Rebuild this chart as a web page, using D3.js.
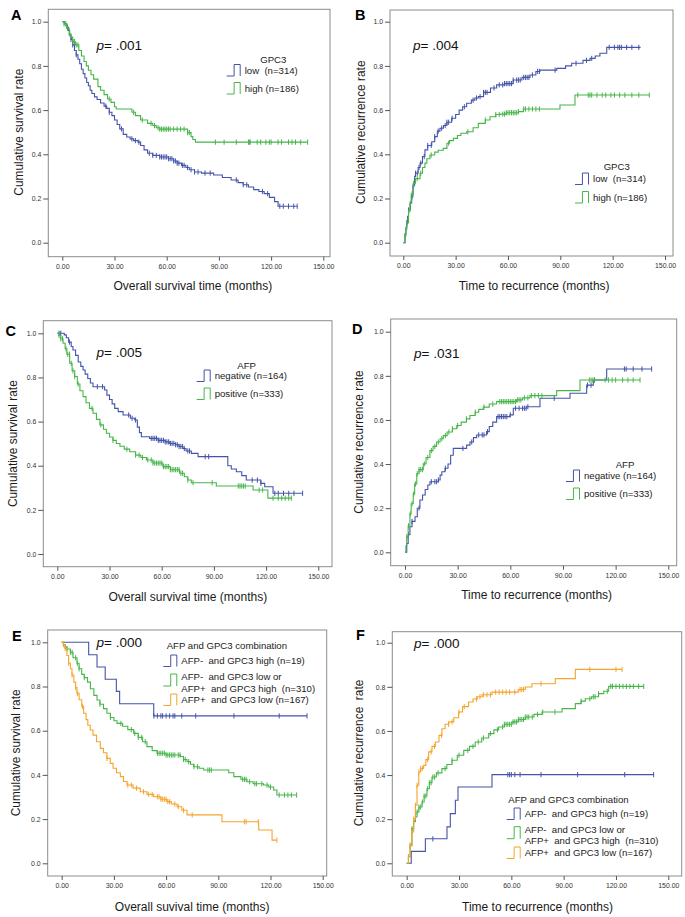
<!DOCTYPE html>
<html><head><meta charset="utf-8">
<script src="https://cdn.jsdelivr.net/npm/d3@7"></script>
<style>
html,body{margin:0;padding:0;background:#fff;}
svg{display:block;font-family:"Liberation Sans",Arial,sans-serif;}
text{white-space:pre;}
</style></head>
<body>
<svg id="chart" width="685" height="917"></svg>
<script>
// ---------- tick labels ----------
const xTicks = [0, 30, 60, 90, 120, 150];
const yTicks = [0, 0.2, 0.4, 0.6, 0.8, 1.0];

// ---------- Panel A : overall survival by GPC3 ----------
const A_low = [[0,1],[1.5,0.99],[2.5,0.975],[3.5,0.96],[4.2,0.94],[5,0.92],[6,0.895],[7,0.87],[8,0.85],[9,0.83],[10,0.81],[11,0.785],[12,0.765],[13,0.745],[14,0.725],[15,0.71],[16,0.69],[17,0.675],[18.5,0.66],[20,0.648],[22,0.632],[24,0.618],[25.5,0.608],[27,0.59],[28.5,0.575],[30,0.555],[31.5,0.535],[33,0.515],[35,0.49],[37,0.478],[39,0.47],[41,0.462],[43.5,0.455],[45,0.44],[47,0.42],[49,0.405],[52,0.395],[56,0.388],[61,0.38],[64,0.37],[66,0.36],[68.5,0.35],[71,0.34],[73,0.33],[76,0.32],[80,0.315],[87,0.306],[92,0.295],[97,0.284],[101,0.272],[104,0.262],[107,0.252],[110,0.24],[113,0.232],[116,0.222],[119,0.205],[122,0.186],[124,0.165]];
const A_lowEnd = 135;
const A_lowCens = [3,5,6,8,25,27,34,40,42,44,50,52,54,56,57,58,59,60,61,62,63,64,65,66,67,69,70,72,74,76,78,82,85,100,104,106,115,118,125,127,130,133,135];
const A_high = [[0,1],[1,0.99],[2.5,0.97],[4,0.945],[5,0.93],[6,0.91],[7.5,0.895],[9.5,0.87],[11,0.845],[12.5,0.82],[13.8,0.8],[15,0.78],[16.5,0.76],[18,0.74],[20.5,0.706],[22,0.69],[24,0.67],[26,0.65],[28,0.635],[30,0.615],[31,0.605],[40,0.59],[42,0.575],[45,0.555],[49,0.54],[52,0.53],[54,0.52],[56,0.514],[72,0.498],[74,0.48],[75,0.467],[76.5,0.455]];
const A_highEnd = 141;
const A_highCens = [1,2,3,4,6,7,8,9,27,41,46,51,53,55,56,57,58,59,60,61,62,64,66,68,70,72,73,88,93,100,107,107.5,108,112,114,117,119,120,124,126,130,132,134,137,141];

// ---------- Panel B : recurrence by GPC3 ----------
const B_low = [[0,0],[1,0.04],[1.5,0.07],[2,0.088],[2.5,0.12],[3,0.148],[4,0.18],[4.8,0.208],[5.5,0.26],[6.5,0.3],[7,0.314],[8.5,0.34],[9.6,0.36],[11,0.39],[12.4,0.42],[14,0.44],[16.3,0.457],[18,0.48],[19.5,0.505],[21,0.518],[23,0.53],[25,0.545],[27.7,0.563],[30,0.58],[32,0.6],[34,0.615],[36.3,0.631],[39,0.645],[41,0.655],[43,0.661],[46,0.68],[50,0.7],[53.5,0.714],[58,0.72],[63,0.736],[68,0.748],[72.6,0.759],[76,0.775],[78.3,0.781],[88,0.789],[93,0.8],[96.5,0.812],[103,0.825],[107,0.834],[110,0.845],[112.7,0.857],[116.6,0.884]];
const B_lowEnd = 136;
const B_lowCens = [2,3,5,6,7,8,9,10,12,14,16,18,20,22,24,25,26,28,35,40,42,44,46,47,48,52,55,57,58,59,60,61,62,63,65,66,67,69,70,71,72,74,77,78,87,99,105,108,118,121,123,124,125,128,131,135];
const B_high = [[0,0],[1,0.03],[1.5,0.06],[2,0.09],[3,0.14],[3.8,0.178],[4.5,0.22],[5.7,0.269],[7,0.29],[9.6,0.314],[11,0.34],[12.4,0.36],[13.5,0.38],[15.3,0.397],[18,0.41],[20,0.418],[22.9,0.427],[25,0.45],[26.5,0.462],[28.7,0.472],[31,0.485],[33,0.495],[36.3,0.502],[40,0.52],[43,0.54],[47,0.555],[49.7,0.57],[53,0.58],[55.4,0.582],[59,0.588],[66,0.593],[68.8,0.605],[89.8,0.623],[98.4,0.668]];
const B_highEnd = 141;
const B_highCens = [1,2,3,4,5,6,8,10,16,26,37,47,53,55,57,58,59,60,61,62,63,64,65,66,69,70,72,74,76,78,100,106,107,108,111,114,116,119,121,124,127,131,135,141];

// ---------- Panel C : overall survival by AFP ----------
const C_neg = [[0,1],[4,0.993],[5.2,0.98],[6.5,0.96],[8,0.94],[9,0.924],[10.5,0.9],[12,0.87],[13.5,0.85],[14.8,0.834],[16,0.815],[17.5,0.795],[19,0.775],[20.5,0.758],[27.2,0.743],[28.5,0.72],[30,0.7],[31.5,0.68],[33,0.66],[35,0.645],[37.8,0.63],[42,0.615],[44.5,0.607],[46,0.575],[47.2,0.55],[48.3,0.531],[53,0.524],[58,0.515],[62,0.508],[64.6,0.501],[68,0.495],[70,0.487],[72.2,0.478],[74,0.467],[77,0.456],[80.9,0.441],[98,0.4],[100,0.385],[102.9,0.373],[106,0.355],[108.6,0.335],[117,0.32],[119.2,0.305],[124,0.275]];
const C_negEnd = 141;
const C_negCens = [1,2,7,23,26,41,43,45,54,55,56,57,58,59,60,61,62,63,64,65,66,67,68,69,70,71,72,73,75,76,85,87,112,115,117,125,127,130,133,136,141];
const C_pos = [[0,1],[1,0.99],[2,0.975],[3.3,0.955],[4.5,0.93],[5.5,0.905],[7.1,0.864],[8.5,0.83],[10,0.804],[11.5,0.77],[13,0.74],[14.8,0.713],[16.5,0.685],[18.5,0.66],[20.5,0.638],[22.5,0.61],[24.5,0.585],[26.5,0.565],[28.2,0.547],[30,0.53],[32,0.515],[33.9,0.501],[36,0.488],[38.5,0.475],[41.6,0.463],[45,0.448],[48,0.437],[51.2,0.426],[55,0.412],[60.7,0.396],[65,0.382],[70.3,0.366],[73,0.35],[75,0.335],[77,0.323],[91.4,0.308],[112.5,0.29],[121,0.253]];
const C_posEnd = 134.5;
const C_posCens = [1,2,3,5,6,7,8,9,10,12,20,25,32,40,45,47,49,52,54,55,56,57,58,59,60,61,62,63,64,65,66,67,68,69,70,71,72,75,78,89,104,105,106,107,108,116,118,124,127,129,131,133,134.5];

// ---------- Panel D : recurrence by AFP ----------
const D_neg = [[0,0],[1,0.04],[1.8,0.08],[2.8,0.116],[4,0.14],[5.7,0.161],[7,0.2],[8.5,0.237],[10,0.26],[11.5,0.285],[13,0.305],[14.2,0.32],[19,0.328],[20,0.35],[21,0.365],[22.8,0.381],[24.5,0.4],[26,0.44],[27.5,0.471],[35.1,0.486],[37,0.5],[39,0.52],[40.8,0.532],[46.5,0.547],[48,0.57],[50,0.59],[52.2,0.615],[59.8,0.623],[61.7,0.653],[69.3,0.66],[76.9,0.698],[94,0.721],[103.5,0.758],[107.3,0.781],[114.9,0.831]];
const D_negEnd = 140.5;
const D_negCens = [2,4,8,15,17,18,19,23,33,38,42,44,45,47,53,54,55,56,57,58,60,63,65,67,68,69,70,85,104,106,108,125,126,130,135,140.5];
const D_pos = [[0,0],[0.5,0.03],[1,0.07],[1.8,0.12],[2.8,0.174],[3.5,0.22],[4.7,0.265],[5.5,0.31],[6.7,0.356],[8,0.375],[10.4,0.401],[12,0.43],[14.2,0.461],[16,0.48],[18,0.5],[20,0.515],[21.8,0.529],[24,0.545],[27,0.56],[29.5,0.575],[32,0.59],[35,0.605],[37,0.62],[40,0.635],[42,0.648],[44.6,0.658],[48,0.672],[52.2,0.683],[63.6,0.691],[67,0.7],[71.2,0.71],[86.4,0.733],[99.7,0.781]];
const D_posEnd = 133.9;
const D_posCens = [1,2,3,4,5,6,7,8,9,10,11,13,15,17,19,21,23,25,27,30,35,40,45,50,54,55,56,57,58,59,60,61,62,63,64,65,66,68,70,72,74,76,78,105,106,107,108,114,116,118,120,124,127,130,133.9];

// ---------- Panel E : overall survival by AFP/GPC3 combination ----------
const E_g1 = [[0,1],[15.5,0.944],[20.3,0.888],[25,0.833],[31.4,0.778],[33.3,0.722],[52.9,0.667]];
const E_g1End = 141;
const E_g1Cens = [53,55,57,58,60,62,64,65,69,77,99,125,141];
const E_g2 = [[0,1],[1,0.99],[2,0.98],[3,0.97],[5,0.955],[6.5,0.93],[8.8,0.905],[10,0.88],[11.5,0.855],[13,0.84],[14.8,0.82],[16.5,0.79],[18.5,0.76],[20.3,0.739],[22,0.72],[24,0.7],[26,0.679],[28,0.66],[30,0.645],[31.8,0.633],[35,0.62],[38,0.605],[41.4,0.588],[44,0.57],[46.5,0.55],[49,0.528],[52,0.51],[54.8,0.498],[60,0.49],[68.2,0.483],[70,0.47],[72,0.46],[74,0.448],[75.9,0.437],[79,0.43],[81.6,0.422],[96,0.41],[98.9,0.392],[103,0.38],[106.5,0.369],[110,0.36],[116,0.354],[119,0.345],[121.8,0.332],[123.7,0.309]];
const E_g2End = 135;
const E_g2Cens = [1,2,3,5,6,8,9,10,13,22,28,34,40,42,44,46,48,55,56,57,58,59,60,61,62,63,64,65,67,68,70,71,73,76,78,84,85,86,104,105,106,108,111,112,115,118,120,125,128,130,132,135];
const E_g3 = [[0,1],[1,0.99],[2,0.973],[3,0.94],[4,0.905],[5,0.88],[5.9,0.852],[7,0.82],[8,0.795],[8.8,0.769],[10,0.74],[11.5,0.71],[12.6,0.679],[14,0.65],[15,0.625],[16.4,0.603],[18,0.58],[20,0.55],[22.2,0.52],[24,0.5],[26,0.475],[27.9,0.452],[29.5,0.43],[31.5,0.41],[33.7,0.392],[35.5,0.37],[37.5,0.354],[41,0.34],[45.2,0.324],[49,0.312],[52.9,0.301],[57,0.29],[60.5,0.279],[63,0.268],[66.3,0.256],[69,0.24],[72,0.219],[92.1,0.188],[113.2,0.151],[120.9,0.105]];
const E_g3End = 123.7;
const E_g3Cens = [1,2,4,6,8,9,12,26,38,40,43,47,50,52,55,56,57,58,59,60,61,62,65,67,70,75,105,106,113,123.7];

// ---------- Panel F : recurrence by AFP/GPC3 combination ----------
const F_g1 = [[0,0],[2.6,0.054],[10.7,0.111],[23.1,0.165],[25,0.225],[27.9,0.286],[29.4,0.346],[48.9,0.402]];
const F_g1End = 141.6;
const F_g1Cens = [15,58,59,60,62,65,77,98,125,141.6];
const F_g2 = [[0,0],[1,0.03],[2,0.08],[3,0.157],[4,0.19],[5,0.21],[5.9,0.233],[7,0.255],[8.8,0.278],[10,0.305],[11.6,0.338],[13,0.365],[14.5,0.391],[17,0.41],[20.2,0.429],[23,0.448],[26,0.467],[29,0.49],[32.7,0.512],[36,0.53],[39.3,0.55],[43,0.568],[47,0.588],[50,0.605],[52.7,0.618],[56,0.63],[60.4,0.641],[64,0.652],[68,0.663],[73,0.675],[77.6,0.686],[89.1,0.701],[96.7,0.724],[100,0.735],[102.4,0.746],[106,0.755],[110,0.769],[113,0.78],[115.8,0.802]];
const F_g2End = 135.9;
const F_g2Cens = [1,2,3,4,5,6,7,8,9,10,11,12,13,14,15,16,18,22,26,30,35,38,41,44,48,52,55,56,57,58,59,60,61,62,63,64,65,66,67,68,69,70,72,75,78,85,100,105,107,108,110,115,117,118,120,122,124,126,128,130,133,135.9];
const F_g3 = [[0,0],[1,0.03],[2,0.082],[3,0.142],[4,0.2],[5,0.263],[5.9,0.354],[6.9,0.414],[8,0.43],[9.7,0.444],[11,0.47],[12.6,0.505],[14.5,0.53],[16.4,0.55],[18.5,0.58],[20.2,0.61],[22,0.63],[24.1,0.641],[27,0.66],[29.8,0.686],[32,0.71],[35.5,0.731],[38,0.745],[40.5,0.755],[43.2,0.764],[48.9,0.776],[64,0.788],[68,0.799],[71.8,0.814],[85.2,0.837],[96.7,0.879]];
const F_g3End = 123.5;
const F_g3Cens = [1,2,3,4,5,6,7,8,9,12,14,16,20,24,26,30,33,40,42,44,46,48,51,53,55,57,59,62,65,66,67,77,105,120,123.5];

// ---------- labels ----------
const pValues = ["A .001","B .004","C .005","D .031","E .000","F .000"];
const legGPC3 = ["low  (n=314)", "high (n=186)"];
const legAFP = ["negative (n=164)", "positive (n=333)"];
const legCombo = [["AFP-  and GPC3 high (n=19)"], ["AFP-  and GPC3 low or", "AFP+  and GPC3 high  (n=310)"], ["AFP+  and GPC3 low (n=167)"]];

// ---------- styling ----------
const BLUE = "#4454a8", GREEN = "#47b54a", ORANGE = "#f5a42c";

const panels = [
  {id:"A", frame:[48.3,330,9.3,256.7], xr:[62.3,323.3], yr:[242.7,21.7],
   ytitle:"Cumulative survival rate", xtitle:"Overall survival time (months)",
   letter:[11,19.5], ytx:18.5, xty:290, p:[96.5,49.5],
   series:[{d:A_low,end:A_lowEnd,c:A_lowCens,col:BLUE},{d:A_high,end:A_highEnd,c:A_highCens,col:GREEN}],
   legend:{title:"GPC3", tx:273.3, ty:60, x:226.7, y:[64.5,82.5], labels:legGPC3, cols:[BLUE,GREEN]}},
  {id:"B", frame:[390,673,10,256], xr:[403.3,665], yr:[242.7,21.7],
   ytitle:"Cumulative recurrence rate", xtitle:"Time to recurrence (months)",
   letter:[355,19.5], ytx:361, xty:290, p:[413,49.5],
   series:[{d:B_low,end:B_lowEnd,c:B_lowCens,col:BLUE},{d:B_high,end:B_highEnd,c:B_highCens,col:GREEN}],
   legend:{title:"GPC3", tx:616.7, ty:166.5, x:575, y:[173,191.5], labels:legGPC3, cols:[BLUE,GREEN]}},
  {id:"C", frame:[43.3,332,320.7,566.7], xr:[57.3,318.3], yr:[554,333.3],
   ytitle:"Cumulative survival rate", xtitle:"Overall survival time (months)",
   letter:[5.5,335.5], ytx:12.5, xty:601, p:[96.5,357],
   series:[{d:C_neg,end:C_negEnd,c:C_negCens,col:BLUE},{d:C_pos,end:C_posEnd,c:C_posCens,col:GREEN}],
   legend:{title:"AFP", tx:246.7, ty:366, x:196.7, y:[370,388], labels:legAFP, cols:[BLUE,GREEN]}},
  {id:"D", frame:[390.7,676.7,319,565.7], xr:[405,668.3], yr:[552.3,331.7],
   ytitle:"Cumulative recurrence rate", xtitle:"Time to recurrence (months)",
   letter:[352,334], ytx:359, xty:599, p:[414,357.5],
   series:[{d:D_neg,end:D_negEnd,c:D_negCens,col:BLUE},{d:D_pos,end:D_posEnd,c:D_posCens,col:GREEN}],
   legend:{title:"AFP", tx:625, ty:465, x:566, y:[470,488], labels:legAFP, cols:[BLUE,GREEN]}},
  {id:"E", frame:[47.7,326.7,630,876], xr:[61.7,322.7], yr:[863.3,642.3],
   ytitle:"Cumulative survival rate", xtitle:"Overall suvival time (months)",
   letter:[12,640.5], ytx:16, xty:910.5, p:[96.5,647],
   series:[{d:E_g1,end:E_g1End,c:E_g1Cens,col:BLUE},{d:E_g2,end:E_g2End,c:E_g2Cens,col:GREEN},{d:E_g3,end:E_g3End,c:E_g3Cens,col:ORANGE}],
   legend:{title:"AFP and GPC3 combination", tx:166.7, ty:646, anchor:"start", x:163.3, y:[655,674,694], labels:legCombo, cols:[BLUE,GREEN,ORANGE], combo:true}},
  {id:"F", frame:[392.3,681.7,631.7,876], xr:[406.7,668.3], yr:[863.3,642.7],
   ytitle:"Cumulative recurrence  rate", xtitle:"Time to recurrence (months)",
   letter:[356,639.5], ytx:359, xty:910.5, p:[414,647.5],
   series:[{d:F_g1,end:F_g1End,c:F_g1Cens,col:BLUE},{d:F_g2,end:F_g2End,c:F_g2Cens,col:GREEN},{d:F_g3,end:F_g3End,c:F_g3Cens,col:ORANGE}],
   legend:{title:"AFP and GPC3 combination", tx:508.3, ty:800, anchor:"start", x:506.7, y:[808,826.7,847], labels:legCombo, cols:[BLUE,GREEN,ORANGE], combo:true}}
];

const svg = d3.select("#chart");
const fmtX = d3.format(".2f"), fmtY = d3.format(".1f");
const LEGFS = "9.6px";

panels.forEach((P, i) => {
  const g = svg.append("g");
  const [fl, fr, ft, fb] = P.frame;
  const x = d3.scaleLinear().domain([0,150]).range(P.xr);
  const y = d3.scaleLinear().domain([0,1]).range(P.yr);

  // frame
  g.append("rect").attr("x",fl).attr("y",ft).attr("width",fr-fl).attr("height",fb-ft)
    .attr("fill","#fff").attr("stroke","#8c8c8c").attr("stroke-width",1);

  // axes
  const xa = g.append("g").attr("transform",`translate(0,${fb})`)
    .call(d3.axisBottom(x).tickValues(xTicks).tickFormat(fmtX).tickSize(4).tickPadding(3));
  const ya = g.append("g").attr("transform",`translate(${fl},0)`)
    .call(d3.axisLeft(y).tickValues(yTicks).tickFormat(fmtY).tickSize(5).tickPadding(2));
  [xa, ya].forEach(a => {
    a.select(".domain").remove();
    a.selectAll(".tick line").attr("stroke","#555");
    a.selectAll(".tick text").attr("fill","#333").style("font-size","6.9px").style("font-family","'Liberation Sans',Arial,sans-serif");
  });

  // titles
  g.append("text").attr("x",x(75)).attr("y",P.xty).attr("text-anchor","middle")
    .style("font-size","12px").attr("fill","#1a1a1a").text(P.xtitle);
  g.append("text").attr("transform",`translate(${P.ytx},${(P.yr[0]+P.yr[1])/2}) rotate(-90)`)
    .attr("dy","0.35em").attr("text-anchor","middle").style("font-size","11.9px").attr("fill","#1a1a1a").text(P.ytitle);
  g.append("text").attr("x",P.letter[0]).attr("y",P.letter[1]).style("font-size","14.5px")
    .style("font-weight","bold").attr("fill","#000").text(P.id);

  const pv = pValues[i].split(" ")[1];
  const pt = g.append("text").attr("x",P.p[0]).attr("y",P.p[1]).style("font-size","13.5px").attr("fill","#111");
  pt.append("tspan").style("font-style","italic").text("p");
  pt.append("tspan").text("= " + pv);

  // curves
  const line = d3.line().x(d=>x(d[0])).y(d=>y(d[1])).curve(d3.curveStepAfter);
  const bis = d3.bisector(d=>d[0]).right;
  P.series.forEach(S => {
    const pts = S.d.concat([[S.end, S.d[S.d.length-1][1]]]);
    g.append("path").attr("d",line(pts)).attr("fill","none").attr("stroke",S.col).attr("stroke-width",1.1);
    g.selectAll(null).data(S.c).enter().append("line")
      .attr("x1",t=>x(t)).attr("x2",t=>x(t))
      .attr("y1",t=>y(S.d[Math.max(0,bis(S.d,t)-1)][1])-2.6)
      .attr("y2",t=>y(S.d[Math.max(0,bis(S.d,t)-1)][1])+2.6)
      .attr("stroke",S.col).attr("stroke-width",1);
  });

  // legend
  const L = P.legend;
  g.append("text").attr("x",L.tx).attr("y",L.ty).attr("text-anchor",L.anchor||"middle")
    .attr("dy","0.35em").style("font-size",LEGFS).attr("fill","#222").text(L.title);
  L.labels.forEach((lab, k) => {
    const iy = L.y[k], ih = L.combo && k===1 ? 12 : 11.5, iw = 13.5;
    g.append("path")
      .attr("d",`M${L.x},${iy+ih} H${L.x+iw*0.55} V${iy} H${L.x+iw} V${iy+ih}`)
      .attr("fill","none").attr("stroke",L.cols[k]).attr("stroke-width",1);
    const lines = Array.isArray(lab) ? lab : [lab];
    lines.forEach((s, j) => {
      g.append("text").attr("x",L.x+iw+4.5).attr("y", iy + (lines.length===1 ? ih/2 : j*11.7+2.5))
        .attr("dy","0.35em").attr("xml:space","preserve").style("font-size",LEGFS).attr("fill","#222").text(s);
    });
  });
});
</script>
</body></html>
